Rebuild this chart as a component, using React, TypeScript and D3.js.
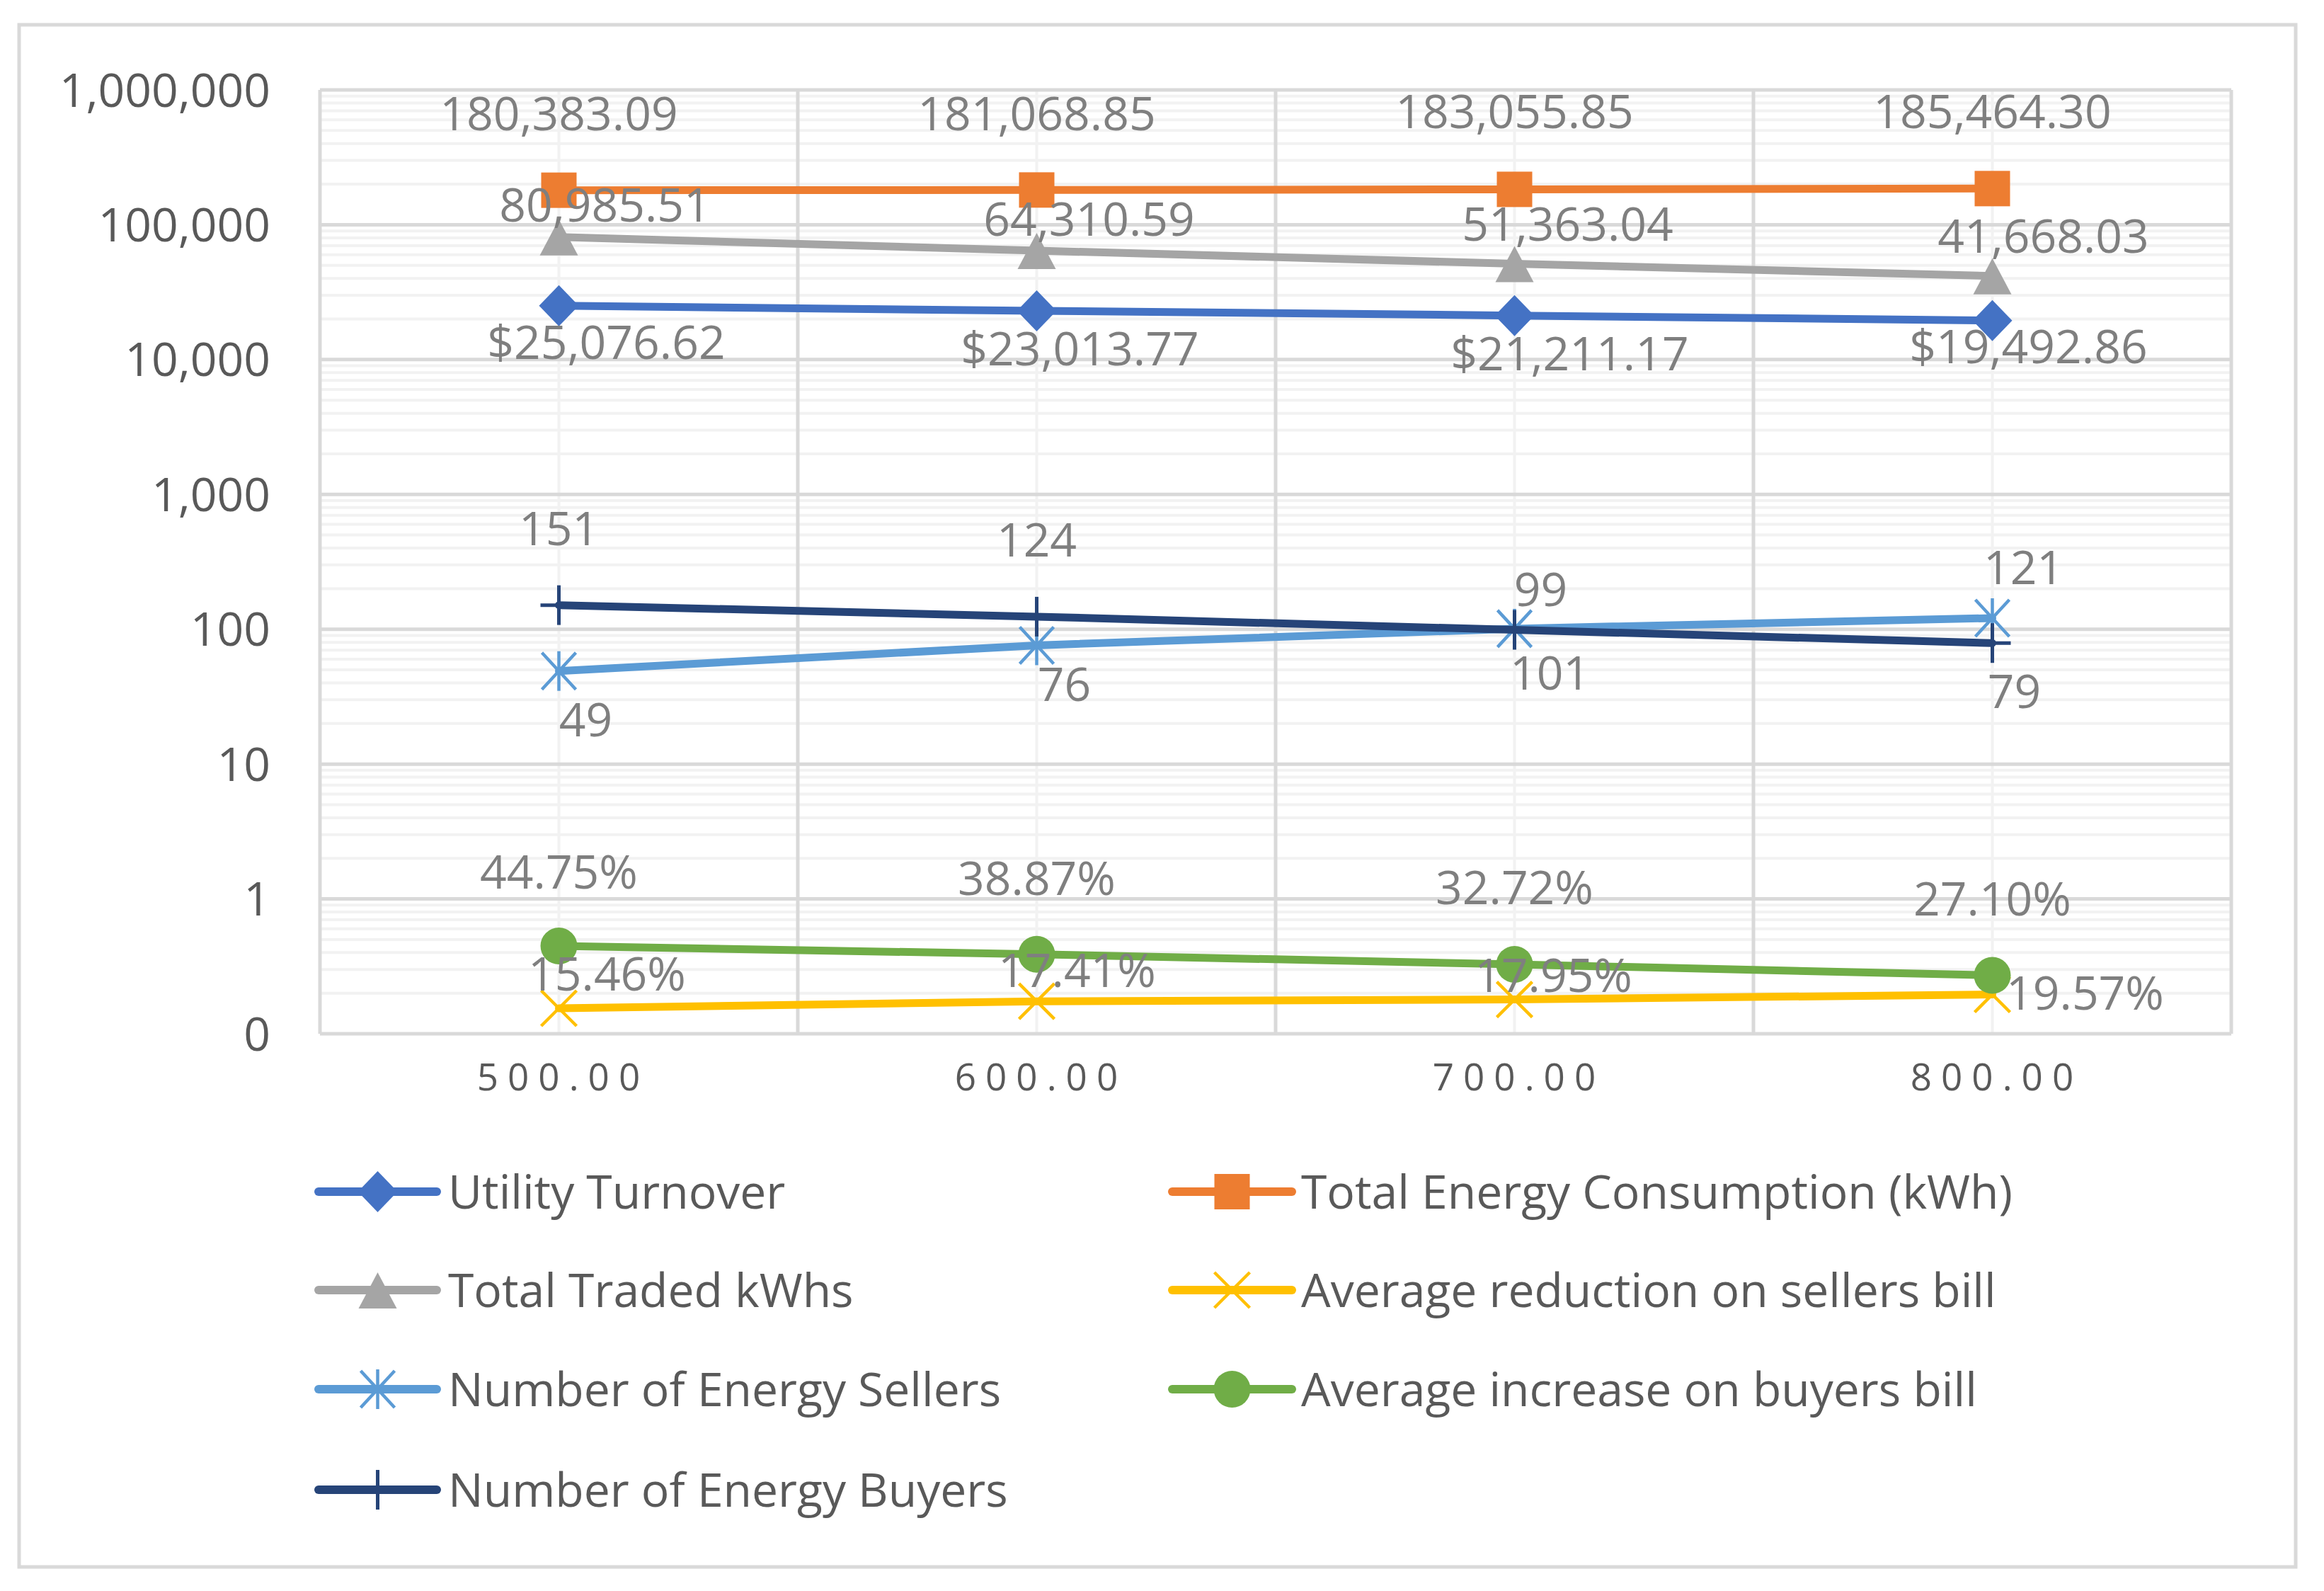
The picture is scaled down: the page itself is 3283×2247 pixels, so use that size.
import React from "react";
import * as d3 from "d3";

// ---------- DATA ----------
const categories = ["500.00", "600.00", "700.00", "800.00"];

const utilityTurnover = [25076.62, 23013.77, 21211.17, 19492.86];
const totalEnergyConsumption = [180383.09, 181068.85, 183055.85, 185464.3];
const totalTradedKWhs = [80985.51, 64310.59, 51363.04, 41668.03];
const avgReductionSellersBill = [0.1546, 0.1741, 0.1795, 0.1957];
const numberOfEnergySellers = [49, 76, 101, 121];
const avgIncreaseBuyersBill = [0.4475, 0.3887, 0.3272, 0.271];
const numberOfEnergyBuyers = [151, 124, 99, 79];

const yTickValues = [0.1, 1, 10, 100, 1000, 10000, 100000, 1000000];
const yTickLabels = ["0", "1", "10", "100", "1,000", "10,000", "100,000", "1,000,000"];

// ---------- STYLE / LAYOUT ----------
const FONT = "'Open Sans', 'Liberation Sans', sans-serif";
const W = 3283;
const H = 2247;
const PLOT = { left: 452, right: 3152, top: 127, bottom: 1460 };

type Marker = "diamond" | "square" | "triangle" | "x" | "star" | "circle" | "plus";

const fmtMoney = (v: number) => "$" + d3.format(",.2f")(v);
const fmtNum2 = (v: number) => d3.format(",.2f")(v);
const fmtInt = (v: number) => d3.format("d")(v);
const fmtPct = (v: number) => d3.format(".2%")(v);

// label offsets relative to the point (dx, dy of label centre)
const series = [
  { name: "Utility Turnover", values: utilityTurnover, color: "#4472C4", marker: "diamond" as Marker, fmt: fmtMoney,
    offs: [[67, 52], [61, 54], [78, 54], [51, 37]] },
  { name: "Total Energy Consumption (kWh)", values: totalEnergyConsumption, color: "#ED7D31", marker: "square" as Marker, fmt: fmtNum2,
    offs: [[0, -108], [0, -108], [0, -110], [0, -109]] },
  { name: "Total Traded kWhs", values: totalTradedKWhs, color: "#A5A5A5", marker: "triangle" as Marker, fmt: fmtNum2,
    offs: [[65, -45], [74, -44], [75, -56], [72, -56]] },
  { name: "Average reduction on sellers bill", values: avgReductionSellersBill, color: "#FFC000", marker: "x" as Marker, fmt: fmtPct,
    offs: [[68, -49], [57, -44], [55, -34], [131, -2]] },
  { name: "Number of Energy Sellers", values: numberOfEnergySellers, color: "#5B9BD5", marker: "star" as Marker, fmt: fmtInt,
    offs: [[38, 69], [39, 55], [50, 63], [44, -72]] },
  { name: "Average increase on buyers bill", values: avgIncreaseBuyersBill, color: "#70AD47", marker: "circle" as Marker, fmt: fmtPct,
    offs: [[0, -105], [0, -107], [0, -109], [0, -108]] },
  { name: "Number of Energy Buyers", values: numberOfEnergyBuyers, color: "#264478", marker: "plus" as Marker, fmt: fmtInt,
    offs: [[0, -108], [0, -108], [37, -57], [31, 68]] },
];

function MarkerShape({ type, x, y, color }: { type: Marker; x: number; y: number; color: string }) {
  switch (type) {
    case "diamond":
      return <polygon points={`${x},${y - 29} ${x + 28},${y} ${x},${y + 29} ${x - 28},${y}`} fill={color} />;
    case "square":
      return <rect x={x - 25} y={y - 25} width={50} height={50} fill={color} />;
    case "triangle":
      return <polygon points={`${x},${y - 25} ${x + 27},${y + 26} ${x - 27},${y + 26}`} fill={color} />;
    case "circle":
      return <circle cx={x} cy={y} r={26} fill={color} />;
    case "x":
      return (
        <g stroke={color} strokeWidth={4.5}>
          <line x1={x - 25} y1={y - 25} x2={x + 25} y2={y + 25} />
          <line x1={x - 25} y1={y + 25} x2={x + 25} y2={y - 25} />
        </g>
      );
    case "star":
      return (
        <g stroke={color} strokeWidth={4.5}>
          <line x1={x - 24} y1={y - 26} x2={x + 24} y2={y + 26} />
          <line x1={x - 24} y1={y + 26} x2={x + 24} y2={y - 26} />
          <line x1={x} y1={y - 28} x2={x} y2={y + 28} />
        </g>
      );
    case "plus":
      return (
        <g stroke={color} strokeWidth={5}>
          <line x1={x} y1={y - 28} x2={x} y2={y + 28} />
          <line x1={x - 26} y1={y} x2={x + 26} y2={y} />
        </g>
      );
  }
  return null;
}

export default function App() {
  const x = d3.scaleBand<string>().domain(categories).range([PLOT.left, PLOT.right]).paddingInner(0).paddingOuter(0);
  const cx = (i: number) => (x(categories[i]) as number) + x.bandwidth() / 2;
  const y = d3
    .scaleLog()
    .domain([yTickValues[0], yTickValues[yTickValues.length - 1]])
    .range([PLOT.bottom, PLOT.top]);

  const minorTicks: number[] = [];
  for (let i = 0; i < yTickValues.length - 1; i++) {
    for (let k = 2; k <= 9; k++) minorTicks.push(yTickValues[i] * k);
  }
  const boundaries = [...categories.map((c) => x(c) as number), PLOT.right];

  const line = d3
    .line<number>()
    .x((_, i) => cx(i))
    .y((d) => y(d));

  const legendCols = [
    { lineX1: 450, lineX2: 617, textX: 633 },
    { lineX1: 1656, lineX2: 1825, textX: 1838 },
  ];
  const legendRows = [1683, 1822, 1962, 2104];

  const labelFS = 66;

  return (
    <svg
      width={W}
      height={H}
      viewBox={`0 0 ${W} ${H}`}
      style={{ position: "absolute", left: 0, top: 0, background: "#fff" }}
      fontFamily={FONT}
    >
      <rect x={0} y={0} width={W} height={H} fill="#fff" />
      <rect x={27} y={35} width={3216} height={2178} fill="#fff" stroke="#D9D9D9" strokeWidth={5} />

      {/* minor horizontal gridlines */}
      {minorTicks.map((v, i) => (
        <line key={"mh" + i} x1={PLOT.left} x2={PLOT.right} y1={y(v)} y2={y(v)} stroke="#F2F2F2" strokeWidth={4} />
      ))}
      {/* minor vertical gridlines at category centres */}
      {categories.map((c, i) => (
        <line key={"mv" + i} x1={cx(i)} x2={cx(i)} y1={PLOT.top} y2={PLOT.bottom} stroke="#F2F2F2" strokeWidth={4} />
      ))}
      {/* major horizontal gridlines */}
      {yTickValues.map((v, i) => (
        <line key={"h" + i} x1={PLOT.left} x2={PLOT.right} y1={y(v)} y2={y(v)} stroke="#D9D9D9" strokeWidth={5} />
      ))}
      {/* major vertical gridlines at category boundaries */}
      {boundaries.map((bx, i) => (
        <line key={"v" + i} x1={bx} x2={bx} y1={PLOT.top} y2={PLOT.bottom} stroke="#D9D9D9" strokeWidth={5} />
      ))}

      {/* y tick labels */}
      {yTickValues.map((v, i) => (
        <text key={"yt" + i} x={382} y={y(v) + 0.357 * 66} textAnchor="end" fontSize={66} fill="#595959">
          {yTickLabels[i]}
        </text>
      ))}
      {/* x tick labels */}
      {categories.map((c, i) => (
        <text
          key={"xt" + i}
          x={cx(i) + 6}
          y={1521 + 0.357 * 53}
          textAnchor="middle"
          fontSize={53}
          letterSpacing={13}
          fill="#595959"
        >
          {c}
        </text>
      ))}

      {/* series */}
      {series.map((s, si) => (
        <g key={"s" + si}>
          <path d={line(s.values) || ""} fill="none" stroke={s.color} strokeWidth={11} strokeLinejoin="round" strokeLinecap="round" />
          {s.values.map((v, i) => (
            <MarkerShape key={i} type={s.marker} x={cx(i)} y={y(v)} color={s.color} />
          ))}
        </g>
      ))}

      {/* data labels */}
      {series.map((s, si) => (
        <g key={"l" + si}>
          {s.values.map((v, i) => (
            <text
              key={i}
              x={cx(i) + s.offs[i][0]}
              y={y(v) + s.offs[i][1] + 0.357 * labelFS}
              textAnchor="middle"
              fontSize={labelFS}
              fill="#7F7F7F"
            >
              {s.fmt(v)}
            </text>
          ))}
        </g>
      ))}

      {/* legend */}
      {series.map((s, si) => {
        const col = legendCols[si % 2];
        const ry = legendRows[Math.floor(si / 2)];
        const mx = (col.lineX1 + col.lineX2) / 2;
        return (
          <g key={"lg" + si}>
            <line x1={col.lineX1} x2={col.lineX2} y1={ry} y2={ry} stroke={s.color} strokeWidth={12} strokeLinecap="round" />
            <MarkerShape type={s.marker} x={mx} y={ry} color={s.color} />
            <text x={col.textX} y={ry + 0.357 * 66} fontSize={66} fill="#595959">
              {s.name}
            </text>
          </g>
        );
      })}
    </svg>
  );
}
